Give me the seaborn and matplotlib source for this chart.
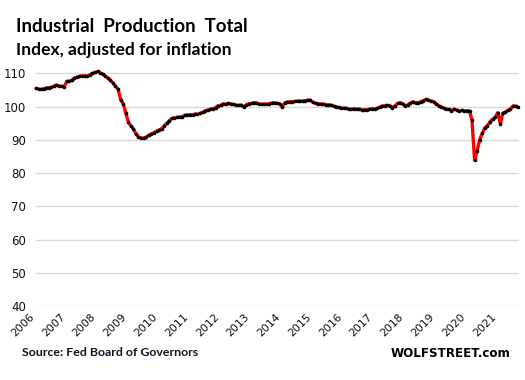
import matplotlib
matplotlib.use('Agg')
import matplotlib.pyplot as plt
import seaborn as sns
import pandas as pd
from matplotlib.transforms import ScaledTranslation

# Industrial production index, monthly, Jan 2006 - Sep 2021
v2006 = [105.5, 105.3, 105.2, 105.4, 105.6, 105.7, 105.8, 106.2, 106.5, 106.3, 106.1, 106.0]
v2007 = [107.6, 107.7, 107.9, 108.6, 108.9, 109.1, 109.3, 109.3, 109.1, 109.6, 110.0, 110.3]
v2008 = [110.6, 110.2, 109.8, 109.2, 108.7, 108.0, 107.2, 106.2, 105.3, 102.1, 100.9, 98.2]
v2009 = [95.3, 94.2, 93.4, 91.8, 90.9, 90.6, 90.5, 90.9, 91.4, 91.8, 92.2, 92.6]
v2010 = [93.0, 93.4, 94.2, 95.0, 95.8, 96.5, 96.6, 96.8, 96.9, 97.0, 97.4, 97.5]
v2011 = [97.6, 97.5, 97.8, 97.7, 98.0, 98.3, 98.8, 99.0, 99.2, 99.4, 99.7, 100.3]
v2012 = [100.4, 100.9, 100.7, 101.0, 100.8, 100.7, 100.5, 100.4, 100.5, 99.9, 100.6, 100.9]
v2013 = [101.0, 101.2, 101.1, 100.9, 100.7, 100.8, 100.7, 100.9, 101.1, 101.2, 101.0, 100.9]
v2014 = [99.9, 101.2, 101.4, 101.5, 101.5, 101.6, 101.7, 101.7, 101.7, 101.8, 102.0, 101.9]
v2015 = [101.3, 101.0, 100.9, 100.8, 100.8, 100.6, 100.6, 100.5, 100.2, 100.0, 99.8, 99.5]
v2016 = [99.6, 99.5, 99.3, 99.2, 99.4, 99.2, 99.3, 99.1, 99.0, 99.1, 99.2, 99.4]
v2017 = [99.3, 99.5, 99.9, 100.2, 100.3, 100.4, 100.3, 99.7, 100.3, 101.0, 101.2, 100.9]
v2018 = [100.2, 100.6, 101.1, 101.5, 101.2, 101.2, 101.5, 101.8, 102.2, 102.0, 101.7, 101.5]
v2019 = [100.9, 100.3, 100.0, 99.6, 99.3, 99.2, 98.8, 99.3, 99.0, 98.6, 98.9, 98.7]
v2020 = [98.8, 98.7, 95.9, 83.9, 86.7, 90.1, 92.0, 93.7, 94.3, 95.5, 96.2, 96.8]
v2021 = [98.2, 94.9, 98.0, 98.4, 98.9, 99.3, 100.2, 100.2, 99.8]

years = [str(y) for y in range(2006, 2022)]
y_ticks = [40, 50, 60, 70, 80, 90, 100, 110]

values = (v2006 + v2007 + v2008 + v2009 + v2010 + v2011 + v2012 + v2013 +
          v2014 + v2015 + v2016 + v2017 + v2018 + v2019 + v2020 + v2021)
dates = pd.date_range('2006-01-01', periods=len(values), freq='MS')
df = pd.DataFrame({'date': dates, 'index': values})

sns.set_theme(style='white')
plt.rcParams['font.family'] = ['DejaVu Sans']

W, H = 525, 380
fig = plt.figure(figsize=(W / 100, H / 100), dpi=100)
fig.patch.set_facecolor('white')
ax = fig.add_axes([36 / W, 1 - 306 / H, (519 - 36) / W, (306 - 68.5) / H])

sns.lineplot(data=df, x='date', y='index', ax=ax, color='#FF0000',
             linewidth=2.4, marker='o', markersize=2.6,
             markerfacecolor='black', markeredgecolor='black',
             markeredgewidth=0, clip_on=False, zorder=3)

ax.set_ylim(40, 111.5)
ax.set_yticks(y_ticks)
ax.set_xlim(pd.Timestamp('2006-01-01'), pd.Timestamp('2021-09-10'))
tick_dates = [pd.Timestamp(f'{y}-01-01') for y in years]
ax.set_xticks(tick_dates)
ax.set_xticklabels(years, rotation=45, ha='right', va='top')
offset = ScaledTranslation(4 / 100, 0, fig.dpi_scale_trans)
for lab in ax.get_xticklabels():
    lab.set_transform(lab.get_transform() + offset)

ax.grid(axis='y', color='#D9D9D9', linewidth=1.0)
ax.grid(axis='x', visible=False)
for s in ax.spines.values():
    s.set_visible(False)
ax.tick_params(axis='y', length=0, pad=7, labelsize=8.5, labelcolor='#111111')
ax.tick_params(axis='x', length=0, pad=4, labelsize=7.8, labelcolor='#111111')
ax.set_xlabel('')
ax.set_ylabel('')

fig.text(16 / W, 1 - 31.7 / H, 'Industrial  Production  Total', fontsize=13.4,
         fontweight='bold', family=['Lato', 'DejaVu Sans'], va='baseline', ha='left', color='black')
fig.text(16 / W, 1 - 55 / H, 'Index, adjusted for inflation', fontsize=12.6,
         fontweight='bold', family=['Lato', 'DejaVu Sans'], va='baseline', ha='left', color='black')
fig.text(22 / W, 1 - 356 / H, 'Source: Fed Board of Governors', fontsize=8.9,
         fontweight='bold', family=['Lato', 'DejaVu Sans'], va='baseline', ha='left', color='#111122')
fig.text(511 / W, 1 - 357 / H, 'WOLFSTREET.com', fontsize=8.6,
         fontweight='bold', family=['DejaVu Sans'], va='baseline', ha='right', color='black')

fig.savefig('out.png', dpi=100, facecolor='white')
